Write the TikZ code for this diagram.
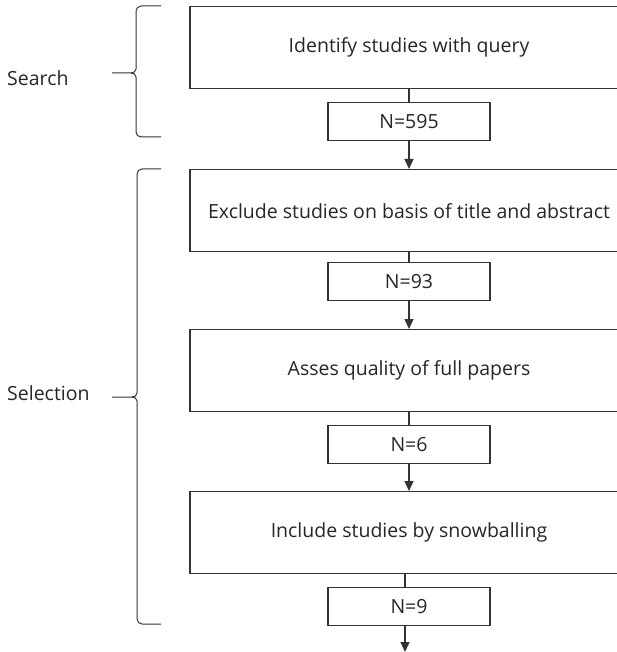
\documentclass[tikz,border=0pt]{standalone}
\usepackage{fontspec}
\setmainfont{Open Sans}
\usetikzlibrary{arrows.meta}
\begin{document}
\begin{tikzpicture}[x=1pt,y=-1pt,
  line/.style={draw=black!80, line width=1.3pt},
  bigbox/.style={line, rectangle, minimum width=438pt, minimum height=82pt, inner sep=0pt, anchor=north},
  nbox/.style={line, rectangle, minimum width=162pt, minimum height=38pt, inner sep=0pt, anchor=north},
  lbl/.style={font=\fontsize{19.5}{22}\selectfont, text=black!85},
  arr/.style={line, -{Triangle[length=10pt,width=9pt]}},
  brace/.style={draw=black!80, line width=1pt}]
\useasboundingbox (0,0) rectangle (617,652);
\clip (0,0) rectangle (617,652);
\node[bigbox, lbl] (b1) at (409,6) {Identify studies with query};
\node[nbox, lbl] (n1) at (409,102) {N=595};
\node[bigbox, lbl] (b2) at (409,169) {Exclude studies on basis of title and abstract};
\node[nbox, lbl] (n2) at (409,262) {N=93};
\node[bigbox, lbl] (b3) at (409,329) {Asses quality of full papers};
\node[nbox, lbl] (n3) at (409,425) {N=6};
\node[bigbox, lbl] (b4) at (409,491) {Include studies by snowballing};
\node[nbox, lbl] (n4) at (409,587) {N=9};
\coordinate (end) at (405,652);
\draw[line] (b1.south) -- (n1.north);
\draw[arr] (n1.south) -- (b2.north);
\draw[line] (b2.south) -- (n2.north);
\draw[arr] (n2.south) -- (b3.north);
\draw[line] (b3.south) -- (n3.north);
\draw[arr] (n3.south) -- (b4.north);
\draw[line] (b4.south -| end) -- (n4.north -| end);
\draw[arr] (n4.south -| end) -- (end);
% braces
\draw[brace] (161,6) -- (141,6) to[out=180,in=90] (136,11) -- (136,69) to[out=-90,in=0] (131,73) -- (112,73);
\draw[brace] (131,73) to[out=0,in=90] (136,77) -- (136,132) to[out=-90,in=180] (141,137) -- (161,137);
\draw[brace] (161,169) -- (142,169) to[out=180,in=90] (137,174) -- (137,393) to[out=-90,in=0] (132,397) -- (112,397);
\draw[brace] (132,397) to[out=0,in=90] (137,401) -- (137,619) to[out=-90,in=180] (142,624) -- (161,624);
\node[lbl, anchor=west, inner sep=0pt] (search) at (7,78) {Search};
\node[lbl, anchor=west, inner sep=0pt] (sel) at (7,393) {Selection};
\end{tikzpicture}
\end{document}
